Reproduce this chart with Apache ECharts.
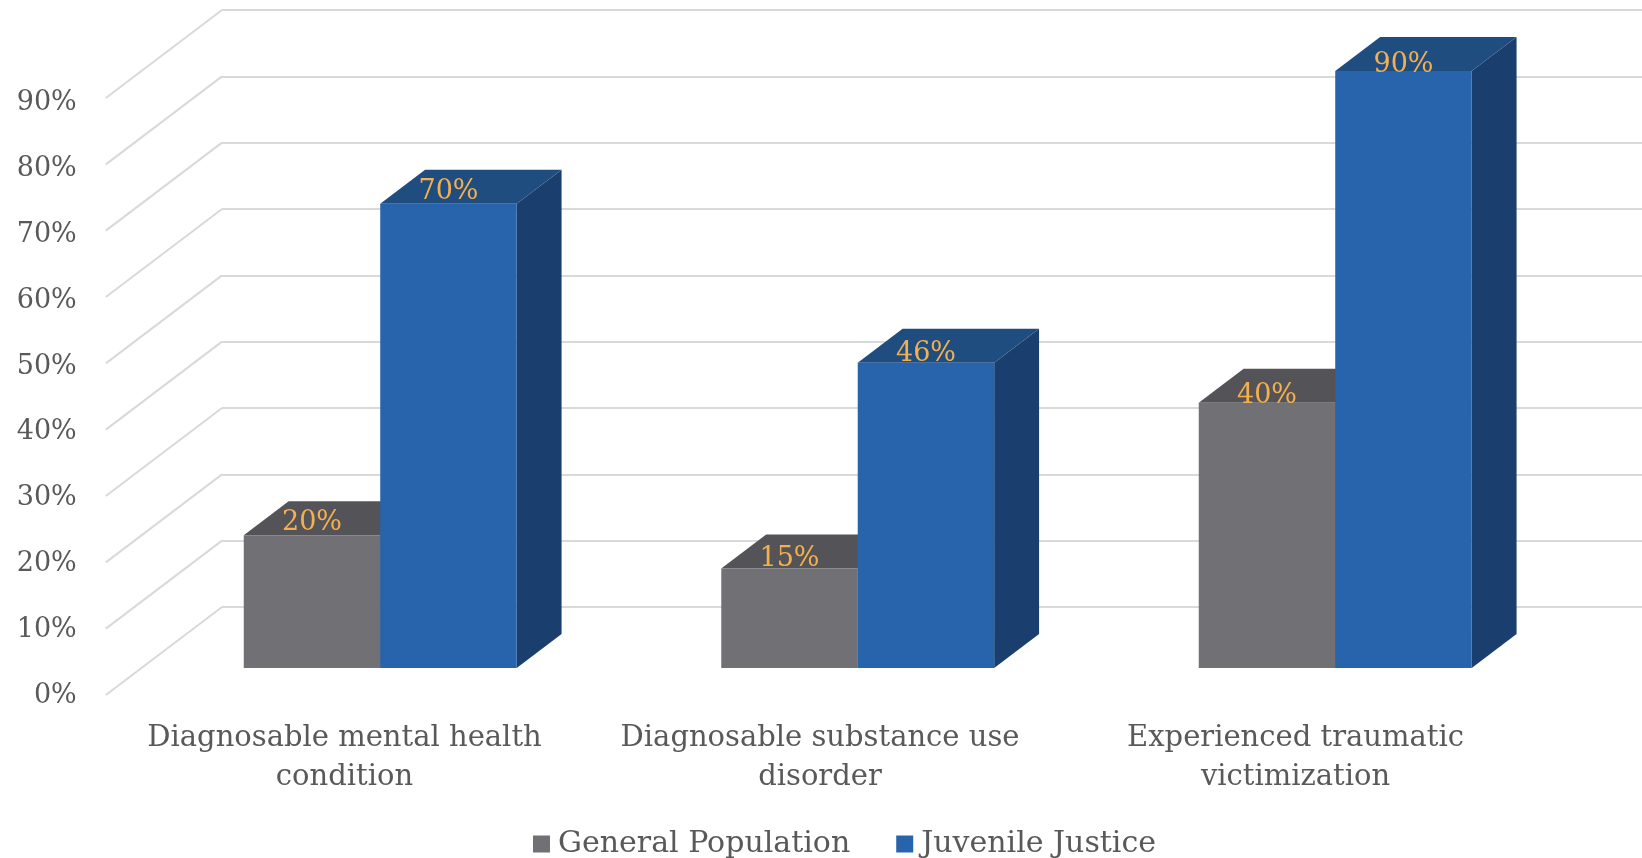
<!DOCTYPE html>
<html>
<head>
<meta charset="utf-8">
<script src="https://cdn.jsdelivr.net/npm/echarts@6/dist/echarts.min.js"></script>
<style>
html,body{margin:0;padding:0;background:#fff;}
#chart{width:1642px;height:858px;}
</style>
</head>
<body>
<div id="chart"></div>
<script>
const categories = ['Diagnosable mental health\ncondition', 'Diagnosable substance use\ndisorder', 'Experienced traumatic\nvictimization'];
const seriesNames = ['General Population', 'Juvenile Justice'];
const generalPopulation = [20, 15, 40];
const juvenileJustice = [70, 46, 90];
const yTicks = [0, 10, 20, 30, 40, 50, 60, 70, 80, 90];

const FONT = '"DejaVu Serif", "Liberation Serif", serif';
const K = 1.32;          // horizontal shift per pixel of depth drop
const WALL_DROP = 88;    // depth of side wall (px, vertical)
const FRONT_DROP = 61;   // bar front face depth
const BACK_DROP = 27;    // bar back face depth
const BAR_FRAC = 0.2858; // bar width as fraction of band

// back-wall grid geometry (layout only)
const WALL_LEFT = 222, BAND_PX = 477.5, CHART_W = 1642;
const X_MAX = -0.5 + (CHART_W - WALL_LEFT) / BAND_PX;

const palette = [
  {front: '#717075', top: '#545458', side: '#4a4a4e'},
  {front: '#2864AB', top: '#1F4D80', side: '#1A3F6E'}
];

function barRender(idx) {
  return function (params, api) {
    const cat = api.value(0), val = api.value(1);
    const base = api.coord([cat, 0]);
    const topP = api.coord([cat, val]);
    const band = api.size([1, 0])[0];
    const bw = band * BAR_FRAC;
    const x0 = base[0] + (idx === 0 ? -bw : 0);
    const x1 = x0 + bw;
    const fx = -K * FRONT_DROP, fy = FRONT_DROP;
    const bx = -K * BACK_DROP, by = BACK_DROP;
    const c = palette[idx];
    const yT = topP[1], yB = base[1];
    const front = [[x0 + fx, yT + fy], [x1 + fx, yT + fy], [x1 + fx, yB + fy], [x0 + fx, yB + fy]];
    const top = [[x0 + fx, yT + fy], [x1 + fx, yT + fy], [x1 + bx, yT + by], [x0 + bx, yT + by]];
    const side = [[x1 + fx, yT + fy], [x1 + bx, yT + by], [x1 + bx, yB + by], [x1 + fx, yB + fy]];
    const midDrop = (FRONT_DROP + BACK_DROP) / 2;
    const lx = (x0 + x1) / 2 + fx;
    const persp = 0.005 * (lx - 300);
    return {
      type: 'group',
      children: [
        {type: 'polygon', shape: {points: side}, style: {fill: c.side}},
        {type: 'polygon', shape: {points: top}, style: {fill: c.top}},
        {type: 'polygon', shape: {points: front}, style: {fill: c.front}},
        {type: 'text', style: {
          text: val + '%', x: lx, y: yT + midDrop + 5 + persp,
          fill: '#F4B04F', font: '27px ' + FONT, align: 'center', verticalAlign: 'middle'
        }}
      ]
    };
  };
}

function wallRender(params, api) {
  const v = api.value(0);
  const cs = params.coordSys;
  const p = api.coord([0, v]);
  const x = cs.x, y = p[1];
  return {
    type: 'line',
    shape: {x1: x, y1: y, x2: x - K * WALL_DROP, y2: y + WALL_DROP},
    style: {stroke: '#D9D9D9', lineWidth: 2}
  };
}

const chart = echarts.init(document.getElementById('chart'));
chart.setOption({
  animation: false,
  backgroundColor: '#ffffff',
  grid: [
    {left: WALL_LEFT, top: 10, right: 0, height: 597},
    {left: 106.75, top: 103, width: 1426.5, height: 593}
  ],
  xAxis: [
    {type: 'value', gridIndex: 0, min: -0.5, max: X_MAX, show: false, splitLine: {show: false}},
    {type: 'category', gridIndex: 1, data: categories,
      axisLine: {show: false}, axisTick: {show: false},
      axisLabel: {interval: 0, margin: 23, color: '#595959', fontFamily: FONT, fontSize: 29, lineHeight: 39}}
  ],
  yAxis: [
    {type: 'value', gridIndex: 0, min: 0, max: 90, interval: 10,
      axisLabel: {show: false}, axisLine: {show: false}, axisTick: {show: false},
      splitLine: {show: true, lineStyle: {color: '#D9D9D9', width: 2}}},
    {type: 'value', gridIndex: 1, min: 0, max: 90, interval: 10,
      axisLine: {show: false}, axisTick: {show: false}, splitLine: {show: false},
      axisLabel: {margin: 30, color: '#595959', fontFamily: FONT, fontSize: 27, formatter: '{value}%'}}
  ],
  legend: {
    data: seriesNames,
    left: 528, top: 824,
    icon: 'rect', itemWidth: 17, itemHeight: 17, itemGap: 46,
    textStyle: {color: '#595959', fontFamily: FONT, fontSize: 30, padding: [0, 0, 0, 3]}
  },
  series: [
    {type: 'custom', name: 'walls', xAxisIndex: 0, yAxisIndex: 0, clip: false, z: 1,
      renderItem: wallRender, encode: {y: 0},
      data: yTicks.map(v => [v])},
    {type: 'custom', name: seriesNames[0], xAxisIndex: 0, yAxisIndex: 0, clip: false, z: 2,
      itemStyle: {color: palette[0].front},
      renderItem: barRender(0), encode: {x: 0, y: 1},
      data: generalPopulation.map((v, i) => [i, v])},
    {type: 'custom', name: seriesNames[1], xAxisIndex: 0, yAxisIndex: 0, clip: false, z: 3,
      itemStyle: {color: palette[1].front},
      renderItem: barRender(1), encode: {x: 0, y: 1},
      data: juvenileJustice.map((v, i) => [i, v])}
  ]
});
</script>
</body>
</html>
